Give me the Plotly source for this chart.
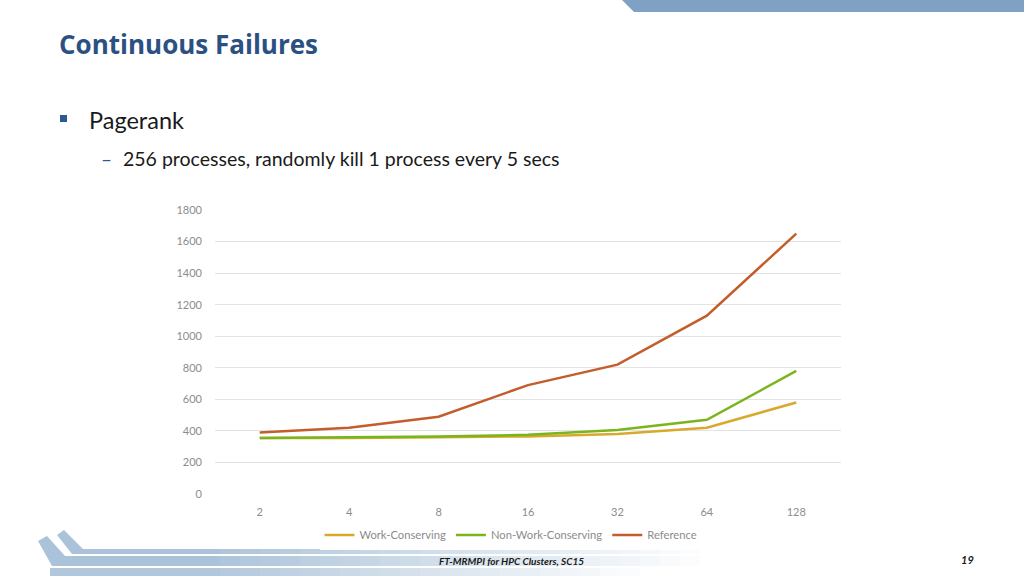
import plotly.graph_objects as go

# data
processes = ["2", "4", "8", "16", "32", "64", "128"]
work_conserving = [355, 355, 360, 365, 380, 420, 580]
non_work_conserving = [355, 360, 365, 375, 405, 470, 780]
reference = [390, 420, 490, 690, 820, 1130, 1650]
y_ticks = [0, 200, 400, 600, 800, 1000, 1200, 1400, 1600, 1800]

# plot area in pixels (1024x576 slide)
L, R, T, B = 215, 841, 210, 494
W, H = 1024, 576


def px(x):
    return (x - L) / (R - L)


def py(y):
    return (B - y) / (B - T)


fig = go.Figure()
series = [
    ("Work-Conserving", work_conserving, "#D9A92F"),
    ("Non-Work-Conserving", non_work_conserving, "#7AB51E"),
    ("Reference", reference, "#C35E2C"),
]
for name, vals, color in series:
    fig.add_trace(
        go.Scatter(
            x=processes,
            y=vals,
            mode="lines",
            name=name,
            line=dict(color=color, width=2.5),
        )
    )

shapes = [
    # top right banner
    dict(type="path", xref="paper", yref="paper",
         path=f"M {px(622)} {py(0)} L {px(1024)} {py(0)} L {px(1024)} {py(12)} "
              f"L {px(634)} {py(12)} Z",
         fillcolor="#7EA1C4", line=dict(width=0), layer="below"),
]

# bottom left swooshes, fading to the right
swoosh_color = "rgba(143,175,205,{a})"
bands = [
    # (tip x, tip y, corner x, band top y, band bottom y, width)
    (38, 541, 52, 556, 566, 9),
    (57, 535, 72, 549, 554, 7),
]


def fade(x_start, x_end, top, bot, a0):
    steps = list(range(x_start, x_end, 20))
    for i, x0 in enumerate(steps):
        a = round(a0 * (1 - i / len(steps)), 3)
        shapes.append(dict(type="rect", xref="paper", yref="paper",
                           x0=px(x0), x1=px(x0 + 20), y0=py(bot), y1=py(top),
                           fillcolor=swoosh_color.format(a=a),
                           line=dict(width=0), layer="below"))


for tx, ty, cx, top, bot, w in bands:
    path = (f"M {px(tx)} {py(ty)} L {px(tx + w)} {py(ty - 5)} L {px(cx + w + 4)} {py(top)} "
            f"L {px(200)} {py(top)} L {px(200)} {py(bot)} L {px(cx)} {py(bot)} Z")
    shapes.append(dict(type="path", xref="paper", yref="paper", path=path,
                       fillcolor=swoosh_color.format(a=0.75), line=dict(width=0), layer="below"))
    fade(200, 700, top, bot, 0.75)

# lowest band
shapes.append(dict(type="rect", xref="paper", yref="paper",
                   x0=px(50), x1=px(200), y0=py(576), y1=py(568),
                   fillcolor=swoosh_color.format(a=0.7), line=dict(width=0), layer="below"))
fade(200, 640, 568, 576, 0.7)

# bullet square
shapes.append(dict(type="rect", xref="paper", yref="paper",
                   x0=px(60), x1=px(67), y0=py(122), y1=py(115),
                   fillcolor="#2C5A8C", line=dict(width=0)))

annotations = [
    dict(text="<b>Continuous Failures</b>", x=px(57), y=py(44), xanchor="left", yanchor="middle",
         font=dict(family="Open Sans", size=26, color="#2B5183")),
    dict(text="Pagerank", x=px(87), y=py(120), xanchor="left", yanchor="middle",
         font=dict(family="Lato", size=23.5, color="#1A1A1A")),
    dict(text="–", x=px(99), y=py(158), xanchor="left", yanchor="middle",
         font=dict(family="Lato", size=19, color="#2C5A8C")),
    dict(text="256 processes, randomly kill 1 process every 5 secs", x=px(121), y=py(158),
         xanchor="left", yanchor="middle",
         font=dict(family="Lato", size=19.5, color="#1A1A1A")),
    dict(text="<b><i>FT-MRMPI for HPC Clusters, SC15</i></b>", x=px(511), y=py(561),
         xanchor="center", yanchor="middle",
         font=dict(family="Lato", size=10, color="#1A1A1A")),
    dict(text="<b><i>19</i></b>", x=px(967), y=py(559), xanchor="center", yanchor="middle",
         font=dict(family="Lato", size=11, color="#1A1A1A")),
]
for a in annotations:
    a.update(xref="paper", yref="paper", showarrow=False)

fig.update_layout(
    width=W,
    height=H,
    margin=dict(l=L, r=W - R, t=T, b=H - B, pad=0),
    plot_bgcolor="white",
    paper_bgcolor="white",
    shapes=shapes,
    annotations=annotations,
    showlegend=True,
    legend=dict(
        orientation="h",
        x=px(511),
        y=py(535),
        xanchor="center",
        yanchor="middle",
        font=dict(family="Lato", size=11.2, color="#8C8C8C"),
        itemwidth=30,
        tracegroupgap=0,
    ),
)
fig.update_xaxes(
    type="category",
    range=[-0.5, 6.5],
    showgrid=False,
    showline=False,
    zeroline=False,
    ticks="",
    ticklabelstandoff=10,
    tickfont=dict(family="Lato", size=11, color="#8C8C8C"),
)
fig.update_yaxes(
    range=[0, 1800],
    tickvals=y_ticks,
    showgrid=True,
    gridcolor="#E3E3E3",
    gridwidth=1,
    zeroline=False,
    showline=False,
    ticks="",
    ticklabelstandoff=12,
    tickfont=dict(family="Lato", size=11, color="#8C8C8C"),
)

# drop the default page margin so the figure sits at the window's corner
fig.write_html(
    "out.html",
    config={"displayModeBar": False},
    post_script="document.body.style.margin = '0';",
)
